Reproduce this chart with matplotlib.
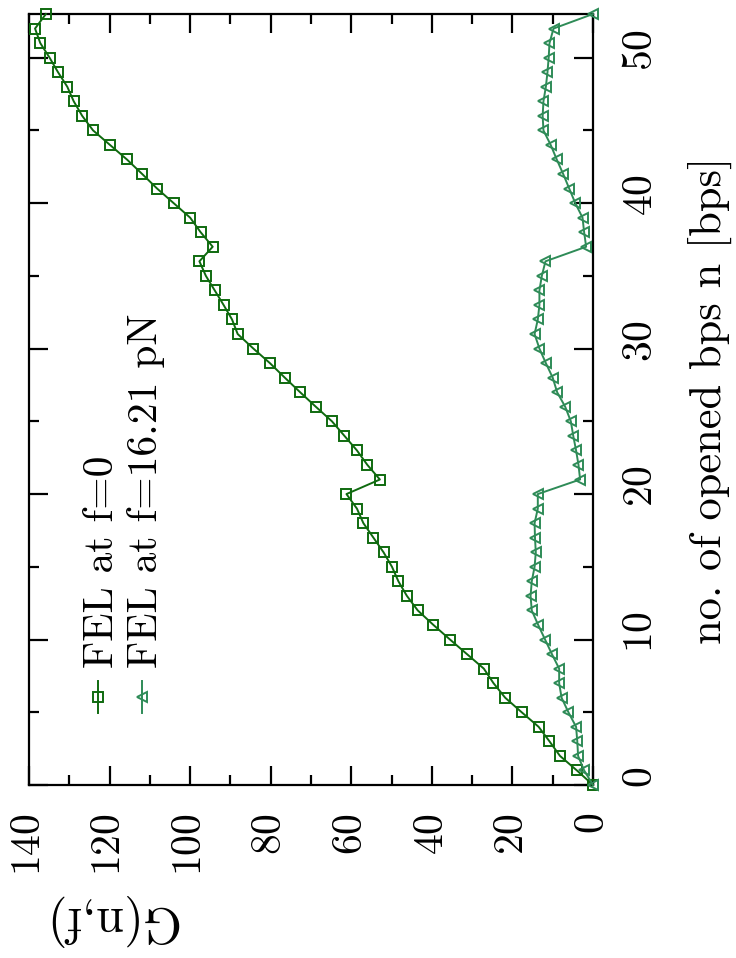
import matplotlib
matplotlib.use("Agg")
import matplotlib.pyplot as plt
from matplotlib.transforms import ScaledTranslation
from matplotlib.ticker import MultipleLocator

plt.rcParams['font.family'] = ['cmr10', 'DejaVu Serif']
plt.rcParams['axes.formatter.use_mathtext'] = True

# opened base pairs n
n_bps = [0, 1, 2, 3, 4, 5, 6, 7, 8, 9, 10, 11, 12, 13, 14, 15, 16, 17, 18, 19,
         20, 21, 22, 23, 24, 25, 26, 27, 28, 29, 30, 31, 32, 33, 34, 35, 36, 37,
         38, 39, 40, 41, 42, 43, 44, 45, 46, 47, 48, 49, 50, 51, 52, 53]

# FEL at f=0
G_f0 = [0, 4.0, 8.2, 10.8, 13.5, 17.7, 21.8, 24.7, 27.1, 31.3, 35.5, 39.6, 43.5,
        46.2, 48.3, 49.9, 52.0, 54.5, 57.0, 58.6, 61.2, 52.9, 56.0, 58.6, 61.7,
        64.8, 68.8, 72.7, 76.5, 80.2, 84.3, 88.2, 89.6, 91.7, 93.9, 96.1, 97.7,
        94.4, 97.4, 100.0, 104.1, 108.2, 111.9, 115.7, 119.9, 124.1, 126.8,
        128.9, 130.5, 132.8, 134.9, 137.2, 138.5, 135.8]

# FEL at f=16.21 pN
G_f1621 = [0, 2.2, 3.7, 3.9, 4.2, 6.1, 7.8, 8.4, 8.4, 10.2, 11.9, 13.6, 15.2, 15.5,
           15.2, 14.5, 14.2, 14.4, 14.5, 13.7, 13.7, 3.2, 3.6, 4.2, 4.9, 5.5, 6.9,
           8.9, 10.0, 11.7, 13.3, 14.5, 13.7, 13.3, 13.3, 12.7, 11.8, 1.7, 2.2,
           2.6, 4.4, 5.9, 7.4, 9.0, 10.5, 12.3, 12.5, 12.3, 11.7, 11.3, 11.0,
           10.8, 9.8, 0]

legend_labels = ["FEL at f=0", "FEL at f=16.21 pN"]
G_ticks = [0, 20, 40, 60, 80, 100, 120, 140]
n_ticks = [0, 10, 20, 30, 40, 50]

W, H = 736, 958
DPI = 100
fig = plt.figure(figsize=(W / DPI, H / DPI), dpi=DPI)

def fx(px):
    return px / W

def fy(py):
    return 1 - py / H

L, R, T, B = 29, 593, 14, 785
ax = fig.add_axes([fx(L), fy(B), fx(R) - fx(L), fy(T) - fy(B)])

c_dark = '#0f6a0f'
c_sea = '#2e8b57'
ms_sq, ms_tri = 7.2, 7.6

ax.plot(G_f0, n_bps, color=c_dark, lw=1.4, marker='s', ms=ms_sq, mfc='none',
        mec=c_dark, mew=1.4, clip_on=False, zorder=3)
ax.plot(G_f1621, n_bps, color=c_sea, lw=1.4, marker='<', ms=ms_tri, mfc='none',
        mec=c_sea, mew=1.4, clip_on=False, zorder=3)

ax.set_xlim(140, 0)
ax.set_ylim(0, 53)
ax.set_xticks(G_ticks)
ax.set_yticks(n_ticks)
ax.xaxis.set_minor_locator(MultipleLocator(10))
ax.yaxis.set_minor_locator(MultipleLocator(5))

for s in ax.spines.values():
    s.set_linewidth(1.6)

ax.tick_params(axis='both', which='both', direction='in', width=1.6,
               top=True, bottom=True, left=True, right=True)
ax.tick_params(axis='both', which='major', length=13.5)
ax.tick_params(axis='both', which='minor', length=7)
ax.tick_params(axis='x', which='major', labelsize=30, labelrotation=90, pad=20)
ax.tick_params(axis='y', which='major', labelsize=30, labelrotation=90, pad=21.6,
               labelleft=False, labelright=True)

for lab in ax.get_yticklabels():
    lab.set_va('center')
    lab.set_ha('left')
    lab.set_transform(lab.get_transform() + ScaledTranslation(0, 8 / DPI, fig.dpi_scale_trans))

# legend (rotated, drawn manually)
leg_x = [98, 142]
leg_text_x = [113, 157]
markers = ['s', '<']
colors = [c_dark, c_sea]
sizes = [ms_sq, ms_tri]
for i in range(2):
    fig.add_artist(plt.Line2D([fx(leg_x[i]), fx(leg_x[i])], [fy(713), fy(681)],
                              color=colors[i], lw=1.4, transform=fig.transFigure))
    fig.add_artist(plt.Line2D([fx(leg_x[i])], [fy(697)], color=colors[i],
                              marker=markers[i], ms=sizes[i], mfc='none',
                              mec=colors[i], mew=1.4, lw=0, transform=fig.transFigure))
    fig.text(fx(leg_text_x[i]), fy(668), legend_labels[i], rotation=90,
             rotation_mode='anchor', ha='left', va='baseline', fontsize=30)

fig.text(fx(710), fy(400), "no. of opened bps n [bps]", rotation=90,
         ha='center', va='center', fontsize=32)
fig.text(fx(110), fy(920), "G(n,f)", rotation=180,
         ha='center', va='center', fontsize=36)

fig.savefig("out.png", dpi=DPI)
